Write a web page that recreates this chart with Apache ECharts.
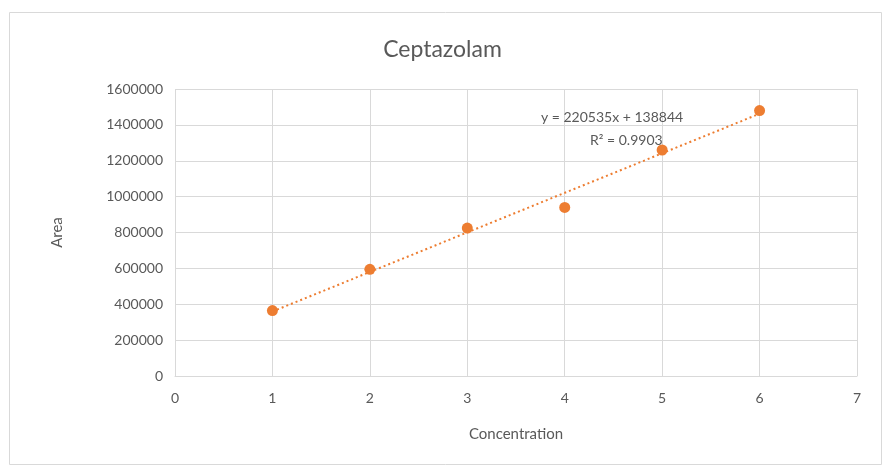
<!DOCTYPE html>
<html>
<head>
<meta charset="utf-8">
<script src="https://cdn.jsdelivr.net/npm/echarts@6/dist/echarts.min.js"></script>
<style>
  html, body { margin: 0; padding: 0; background: #fff; }
  #chart { width: 885px; height: 466px; }
</style>
</head>
<body>
<div id="chart"></div>
<script>
// concentration vs peak area
const concentration = [1, 2, 3, 4, 5, 6];
const area = [365000, 595000, 825000, 940000, 1260000, 1480000];

// linear trendline reported by the spreadsheet
const slope = 220535;
const intercept = 138844;
const rSquared = '0.9903';

const xTicks = [0, 1, 2, 3, 4, 5, 6, 7];
const yTicks = [0, 200000, 400000, 600000, 800000, 1000000, 1200000, 1400000, 1600000];

const points = concentration.map((x, i) => [x, area[i]]);
const trendX = [concentration[0], concentration[concentration.length - 1]];
const trend = trendX.map((x) => [x, slope * x + intercept]);

const font = 'Lato, "Open Sans", sans-serif';
const grey = '#595959';

const chart = echarts.init(document.getElementById('chart'));

chart.setOption({
  animation: false,
  textStyle: { fontFamily: font },
  title: {
    text: 'Ceptazolam',
    left: 'center',
    top: 33,
    textStyle: { fontSize: 23, fontWeight: 'normal', color: grey, fontFamily: font }
  },
  grid: { left: 175, right: 28, top: 89, bottom: 90 },
  xAxis: {
    type: 'value',
    min: xTicks[0],
    max: xTicks[xTicks.length - 1],
    interval: 1,
    name: 'Concentration',
    nameLocation: 'middle',
    nameGap: 51,
    nameTextStyle: { fontSize: 15, color: grey },
    axisLine: { show: true, lineStyle: { color: '#d9d9d9' } },
    axisTick: { show: false },
    axisLabel: { fontSize: 14, color: grey, margin: 15 },
    splitLine: { show: true, lineStyle: { color: '#d9d9d9' } }
  },
  yAxis: {
    type: 'value',
    min: yTicks[0],
    max: yTicks[yTicks.length - 1],
    interval: 200000,
    name: 'Area',
    nameLocation: 'middle',
    nameGap: 110,
    nameTextStyle: { fontSize: 15, color: grey },
    axisLine: { show: false },
    axisTick: { show: false },
    axisLabel: { fontSize: 14, color: grey, margin: 12, formatter: (v) => String(v) },
    splitLine: { show: true, lineStyle: { color: '#d9d9d9' } }
  },
  series: [
    {
      name: 'Trendline',
      type: 'line',
      data: trend,
      symbol: 'none',
      z: 1,
      lineStyle: { color: '#ED7D31', width: 2, type: [2, 3] }
    },
    {
      name: 'Area',
      type: 'scatter',
      data: points,
      symbol: 'circle',
      symbolSize: 11,
      z: 3,
      itemStyle: { color: '#ED7D31', opacity: 1 }
    }
  ],
  graphic: [
    {
      type: 'rect',
      left: 7,
      top: 10,
      shape: { width: 872, height: 452 },
      style: { fill: 'none', stroke: '#d9d9d9', lineWidth: 1 },
      silent: true
    },
    {
      type: 'text',
      left: 541,
      top: 110,
      z: 10,
      style: {
        text: 'y = ' + slope + 'x + ' + intercept,
        fontSize: 14,
        fill: grey,
        fontFamily: font
      }
    },
    {
      type: 'text',
      left: 590,
      top: 133,
      z: 10,
      style: {
        text: 'R² = ' + rSquared,
        fontSize: 14,
        fill: grey,
        fontFamily: font
      }
    }
  ]
});
</script>
</body>
</html>
